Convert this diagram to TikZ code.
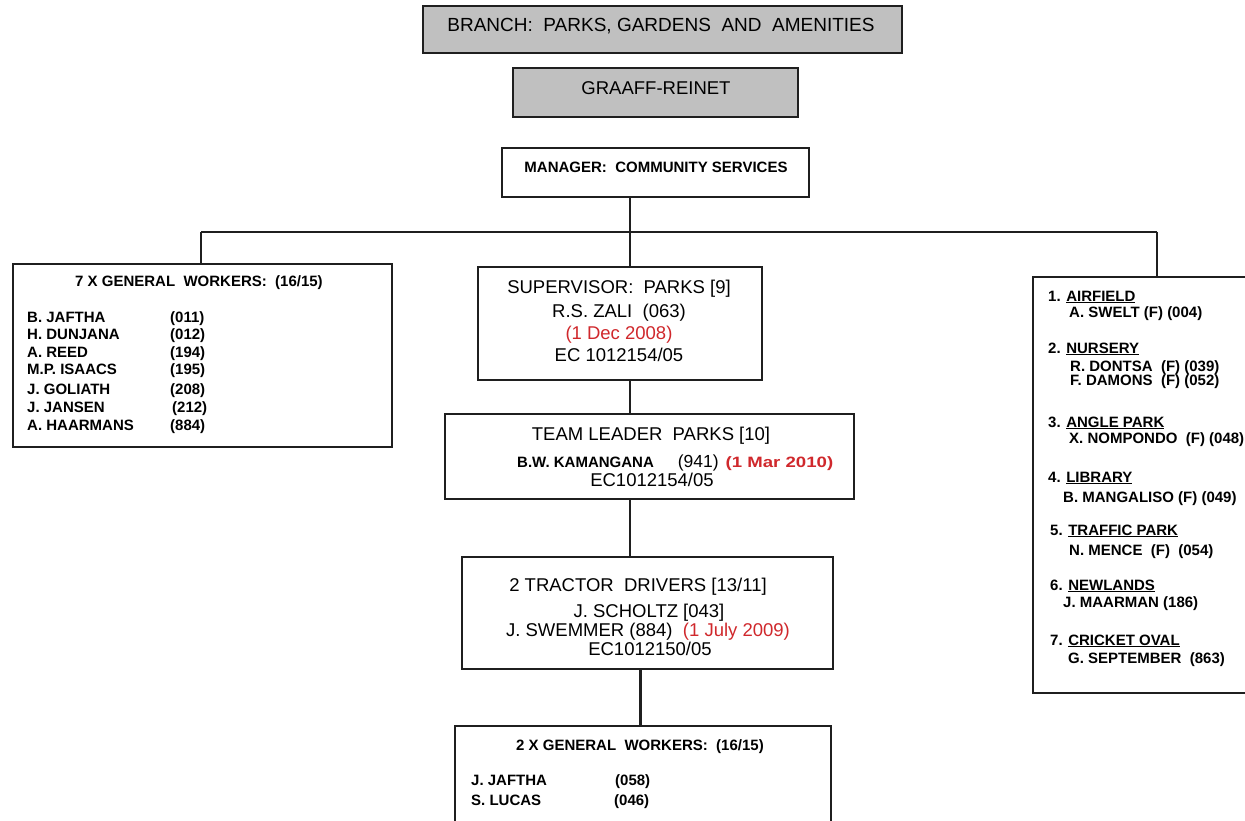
\documentclass[tikz,border=0pt]{standalone}
\usepackage{fontspec}
\setmainfont{Liberation Sans}
\definecolor{dred}{HTML}{D0282C}
\definecolor{boxgray}{HTML}{C0C0C0}
\newcommand\frg{\fontsize{18.5}{22}\selectfont}
\newcommand\fbd{\fontsize{15}{18}\selectfont\bfseries}
\tikzset{
  box/.style={draw=black!88, line width=1.6pt, fill=white, inner sep=0pt},
  graybox/.style={box, fill=boxgray, line width=2.2pt},
  conn/.style={draw=black!88, line width=1.6pt},
  txt/.style={inner sep=0pt, anchor=base},
  txtl/.style={inner sep=0pt, anchor=base west},
}
\begin{document}
\begin{tikzpicture}[x=1pt,y=-1pt]
\useasboundingbox (0,0) rectangle (1245,821);
\clip (0,0) rectangle (1245,821);
\fill[white] (0,0) rectangle (1245,821);
% boxes
\node[graybox, minimum width=479pt, minimum height=47pt] (branch) at (662.5,29.5) {};
\node[graybox, minimum width=285pt, minimum height=49pt] (graaff) at (655.5,92.5) {};
\node[box, minimum width=307pt, minimum height=49pt, line width=1.4pt] (mgr) at (655.5,172.5) {};
\node[box, minimum width=379pt, minimum height=183pt] (left) at (202.5,355.5) {};
\node[box, minimum width=284pt, minimum height=113pt] (sup) at (620,323.5) {};
\node[box, minimum width=409pt, minimum height=85pt] (team) at (649.5,456.5) {};
\node[box, minimum width=371pt, minimum height=112pt] (trac) at (647.5,613) {};
\node[box, minimum width=376pt, minimum height=114pt] (bot) at (643,783) {};
\node[box, minimum width=237pt, minimum height=416pt] (right) at (1151.5,485) {};
% connectors
\coordinate (bus) at (630,232);
\coordinate (busL) at (201,232);
\coordinate (busR) at (1157,232);
\coordinate (tb) at (640,0);
\draw[conn] (mgr.south -| bus) -- (bus);
\draw[conn] (busL) -- (busR);
\draw[conn] (busL) -- (busL |- left.north);
\draw[conn] (bus) -- (bus |- sup.north);
\draw[conn] (busR) -- (busR |- right.north);
\draw[conn] (sup.south -| bus) -- (team.north -| bus);
\draw[conn] (team.south -| bus) -- (trac.north -| bus);
\draw[conn, line width=3pt] (trac.south -| tb) -- (bot.north -| tb);
% header texts
\node[txt] (tbranch) at (661,32) {\fontsize{19}{22}\selectfont BRANCH:\ \ PARKS, GARDENS\ \ AND\ \ AMENITIES};
\node[txt] (tgraaff) at (656,95) {\frg GRAAFF-REINET};
\node[txt] (tmgr) at (656,173) {\fbd MANAGER:\ \ COMMUNITY SERVICES};
% left box
\node[txt] (ltitle) at (199,286) {\fbd 7 X GENERAL\ \ WORKERS:\ \ (16/15)};
\node[txtl] (l1) at (27,322) {\fbd B. JAFTHA};
\node[txtl] (l2) at (27,339.5) {\fbd H. DUNJANA};
\node[txtl] (l3) at (27,357) {\fbd A. REED};
\node[txtl] (l4) at (27,374.5) {\fbd M.P. ISAACS};
\node[txtl] (l5) at (27,394) {\fbd J. GOLIATH};
\node[txtl] (l6) at (27,412) {\fbd J. JANSEN};
\node[txtl] (l7) at (27,430) {\fbd A. HAARMANS};
\node[txtl] (n1) at (170,322) {\fbd (011)};
\node[txtl] (n2) at (170,339.5) {\fbd (012)};
\node[txtl] (n3) at (170,357) {\fbd (194)};
\node[txtl] (n4) at (170,374.5) {\fbd (195)};
\node[txtl] (n5) at (170,394) {\fbd (208)};
\node[txtl] (n6) at (172,412) {\fbd (212)};
\node[txtl] (n7) at (170,430) {\fbd (884)};
% supervisor
\node[txt] (s1) at (619,293) {\frg SUPERVISOR:\ \ PARKS [9]};
\node[txt] (s2) at (619,317) {\frg R.S. ZALI\ \ (063)};
\node[txt] (s3) at (619,339) {\frg\color{dred}(1 Dec 2008)};
\node[txt] (s4) at (619,361) {\frg EC 1012154/05};
% team leader
\node[txt] (t1) at (651,440) {\frg TEAM LEADER\ \ PARKS [10]};
\node[txtl] (t2) at (517,467) {{\fbd B.W. KAMANGANA}\hspace{24pt}{\fontsize{17.5}{20}\selectfont (941)}\hspace{7pt}\scalebox{1.24}[1]{\fbd\color{dred}(1 Mar 2010)}};
\node[txt] (t3) at (652,486) {\frg EC1012154/05};
% tractor
\node[txt] (r1) at (638,591.5) {\frg 2 TRACTOR\ \ DRIVERS [13/11]};
\node[txt] (r2) at (649,617) {\frg J. SCHOLTZ [043]};
\node[txt] (r3) at (648,636.5) {\frg J. SWEMMER (884)\ \ {\color{dred}(1 July 2009)}};
\node[txt] (r4) at (650,655) {\frg EC1012150/05};
% bottom box
\node[txt] (btitle) at (640,750) {\fbd 2 X GENERAL\ \ WORKERS:\ \ (16/15)};
\node[txtl] (b1) at (471,785) {\fbd J. JAFTHA};
\node[txtl] (b2) at (471,805) {\fbd S. LUCAS};
\node[txtl] (bn1) at (615,785) {\fbd (058)};
\node[txtl] (bn2) at (614,805) {\fbd (046)};
% right box
\node[txtl] (h1) at (1048,301) {\fbd 1. \underline{AIRFIELD}};
\node[txtl] (p1) at (1069,317) {\fbd A. SWELT (F) (004)};
\node[txtl] (h2) at (1048,353) {\fbd 2. \underline{NURSERY}};
\node[txtl] (p2) at (1070,371) {\fbd R. DONTSA\ \ (F) (039)};
\node[txtl] (p3) at (1070,385) {\fbd F. DAMONS\ \ (F) (052)};
\node[txtl] (h3) at (1048,427) {\fbd 3. \underline{ANGLE PARK}};
\node[txtl] (p4) at (1069,443) {\fbd X. NOMPONDO\ \ (F) (048)};
\node[txtl] (h4) at (1048,482) {\fbd 4. \underline{LIBRARY}};
\node[txtl] (p5) at (1063,502) {\fbd B. MANGALISO (F) (049)};
\node[txtl] (h5) at (1050,535) {\fbd 5. \underline{TRAFFIC PARK}};
\node[txtl] (p6) at (1069,555) {\fbd N. MENCE\ \ (F)\ \ (054)};
\node[txtl] (h6) at (1050,590) {\fbd 6. \underline{NEWLANDS}};
\node[txtl] (p7) at (1063,607) {\fbd J. MAARMAN (186)};
\node[txtl] (h7) at (1050,645) {\fbd 7. \underline{CRICKET OVAL}};
\node[txtl] (p8) at (1068,663) {\fbd G. SEPTEMBER\ \ (863)};
\end{tikzpicture}
\end{document}
